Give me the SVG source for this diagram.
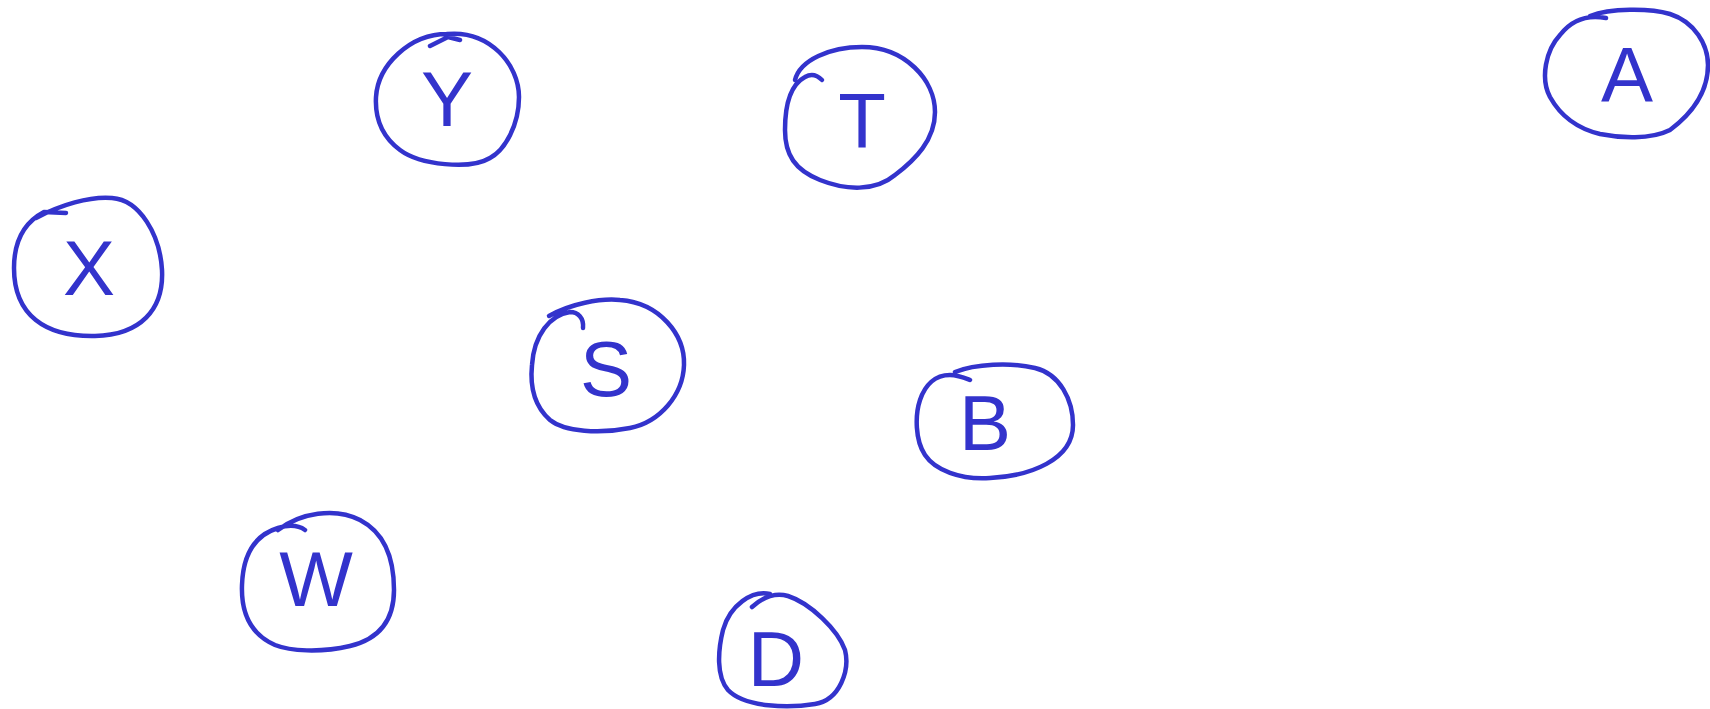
<svg xmlns="http://www.w3.org/2000/svg" width="1710" height="709" viewBox="0 0 1710 709">
<style>
.n{fill:none;stroke:#3333cc;stroke-width:4.5;stroke-linecap:round;stroke-linejoin:round}
.t{font-family:"Liberation Sans",Arial,sans-serif;font-size:78px;fill:#3333cc;text-anchor:middle}
</style>
<rect width="1710" height="709" fill="#fff"/>
<g id="connectors"></g>
<g id="node-X">
<path class="n" d="M 36,218 C 60,205 90,196 112,198 C 140,200 160,235 162,270 C 164,310 140,335 95,336 C 45,337 14,315 14,268 C 14,240 25,222 44,212 L 66,213"/>
<text class="t" x="89" y="295">X</text>
</g>
<g id="node-Y">
<path class="n" d="M 447,34 C 490,30 519,65 519,97 C 519,125 505,150 490,158 C 470,170 420,165 400,150 C 380,135 375,115 376,97 C 378,65 410,34 447,34 M 430,46 L 448,37 L 460,40"/>
<text class="t" x="447" y="126">Y</text>
</g>
<g id="node-T">
<path class="n" d="M 795,80 C 800,60 830,47 862,47 C 905,47 935,80 935,112 C 935,140 915,160 895,175 C 875,192 845,190 820,180 C 795,170 785,155 785,130 C 785,105 790,85 805,77 C 812,73 818,76 822,80"/>
<text class="t" x="862" y="148">T</text>
</g>
<g id="node-A">
<path class="n" d="M 1590,16 C 1610,8 1650,8 1670,14 C 1695,22 1708,45 1708,65 C 1708,95 1690,115 1670,130 C 1650,140 1620,138 1600,134 C 1575,128 1560,115 1550,97 C 1540,78 1546,50 1560,35 C 1570,22 1585,14 1606,18"/>
<text class="t" x="1627" y="102">A</text>
</g>
<g id="node-S">
<path class="n" d="M 549,316 C 570,304 600,298 620,300 C 660,303 685,335 684,365 C 683,395 660,422 630,428 C 600,434 565,432 550,420 C 533,405 530,385 532,365 C 534,335 550,315 570,312 C 578,312 584,318 583,328"/>
<text class="t" x="606" y="396">S</text>
</g>
<g id="node-B">
<path class="n" d="M 955,372 C 975,364 1010,362 1035,368 C 1060,374 1073,400 1073,425 C 1073,460 1030,476 990,478 C 960,480 935,470 925,455 C 915,440 915,415 920,400 C 925,385 935,375 950,375 C 958,375 965,378 970,380"/>
<text class="t" x="985" y="450">B</text>
</g>
<g id="node-W">
<path class="n" d="M 278,530 C 300,513 335,507 360,520 C 385,533 394,560 394,590 C 394,625 375,640 350,646 C 320,653 290,651 275,645 C 250,634 241,612 242,585 C 243,555 255,535 278,528 C 288,525 298,525 305,530"/>
<text class="t" x="316" y="606">W</text>
</g>
<g id="node-D">
<path class="n" d="M 752,607 C 762,598 775,592 788,596 C 810,603 838,630 845,650 C 850,670 840,700 815,704 C 790,708 745,708 728,690 C 716,676 718,650 723,630 C 730,605 752,590 770,594"/>
<text class="t" x="776" y="686">D</text>
</g>
</svg>
